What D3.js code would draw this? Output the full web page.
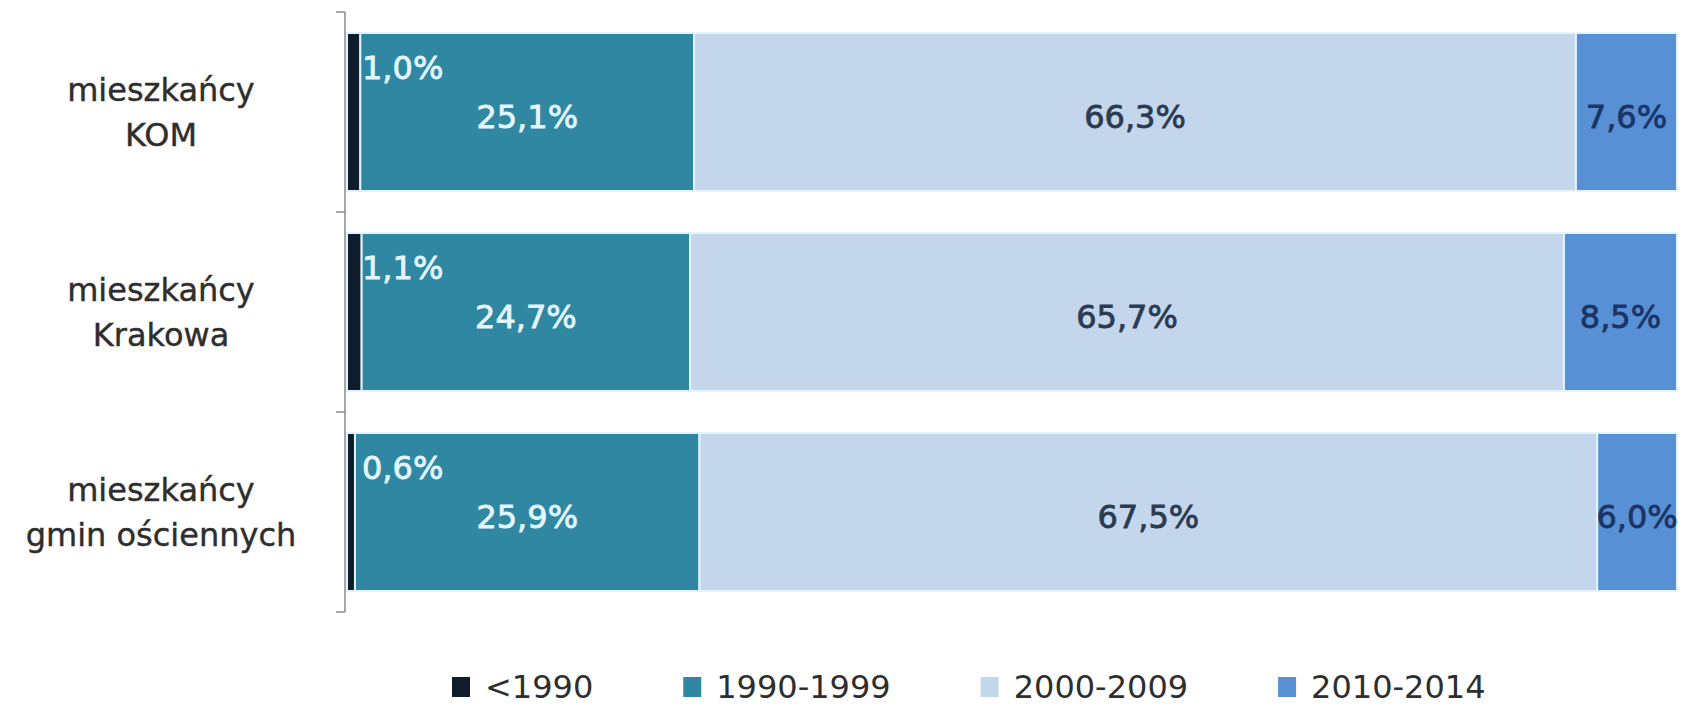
<!DOCTYPE html>
<html>
<head>
<meta charset="utf-8">
<script src="https://cdn.jsdelivr.net/npm/d3@7"></script>
<style>
  body { margin: 0; background: #fff; }
  text { font-family: "DejaVu Sans", sans-serif; }
</style>
</head>
<body>
<div id="chart"></div>
<script>
// categories (two-line labels) and series
var categories = ["mieszkańcy KOM", "mieszkańcy Krakowa", "mieszkańcy gmin ościennych"];
var categoryLines = [["mieszkańcy", "KOM"], ["mieszkańcy", "Krakowa"], ["mieszkańcy", "gmin ościennych"]];
var seriesNames = ["<1990", "1990-1999", "2000-2009", "2010-2014"];
var before1990 = [1.0, 1.1, 0.6];
var s1990_1999 = [25.1, 24.7, 25.9];
var s2000_2009 = [66.3, 65.7, 67.5];
var s2010_2014 = [7.6, 8.5, 6.0];

var colors = ["#0e1c2b", "#2f87a1", "#c3d6ec", "#5890d6"];
var labelColors = ["#e4f6ff", "#e4f6ff", "#2b3b50", "#1b3566"];

var width = 1684, height = 710;
var svg = d3.select("#chart").append("svg")
    .attr("width", width)
    .attr("height", height);

var x = d3.scaleLinear().domain([0, 100]).range([347, 1677]);
var y = d3.scaleBand().domain(categories).range([12, 612])
    .paddingInner(0.21).paddingOuter(0.105);

var rows = categories.map(function(c, i) {
    var vals = [before1990[i], s1990_1999[i], s2000_2009[i], s2010_2014[i]];
    var acc = 0;
    return vals.map(function(v, k) {
        var seg = { cat: c, k: k, v: v, x0: acc, x1: acc + v };
        acc += v;
        return seg;
    });
});

var fmt = function(v) { return v.toFixed(1).replace(".", ",") + "%"; };

var g = svg.append("g");
rows.forEach(function(segs) {
    g.selectAll(null).data(segs).enter().append("rect")
        .attr("x", function(d) { return x(d.x0); })
        .attr("y", function(d) { return y(d.cat); })
        .attr("width", function(d) { return x(d.x1) - x(d.x0); })
        .attr("height", y.bandwidth())
        .style("fill", function(d) { return colors[d.k]; })
        .style("stroke", "#e2f4ff")
        .style("stroke-width", 2);

    g.selectAll(null).data(segs).enter().append("text")
        .attr("x", function(d) { return d.k == 0 ? x(d.x0) + 15 : x((d.x0 + d.x1) / 2); })
        .attr("y", function(d) { return d.k == 0 ? y(d.cat) + 35 : y(d.cat) + y.bandwidth() / 2 + 5; })
        .attr("dy", "0.35em")
        .attr("text-anchor", function(d) { return d.k == 0 ? "start" : "middle"; })
        .style("font-size", "32px")
        .style("fill", function(d) { return labelColors[d.k]; })
        .style("stroke", function(d) { return labelColors[d.k]; })
        .style("stroke-width", 0.8)
        .text(function(d) { return fmt(d.v); });
});

// axis line with ticks at band boundaries
var step = y.step();
var axisX = 345;
svg.append("line")
    .attr("x1", axisX).attr("x2", axisX)
    .attr("y1", y.range()[0]).attr("y2", y.range()[1])
    .style("stroke", "#8a8a8a").style("stroke-width", 1.5);
var tickYs = categories.map(function(c) { return y(c) - step * y.paddingInner() / 2; });
tickYs.push(y.range()[1]);
svg.selectAll(".tick").data(tickYs).enter().append("line")
    .attr("x1", axisX - 9).attr("x2", axisX)
    .attr("y1", function(d) { return d; }).attr("y2", function(d) { return d; })
    .style("stroke", "#8a8a8a").style("stroke-width", 1.5);

// category labels
categories.forEach(function(c, i) {
    var t = svg.append("text")
        .attr("x", 161)
        .attr("y", y(c) + y.bandwidth() / 2)
        .attr("text-anchor", "middle")
        .style("font-size", "32px")
        .style("fill", "#2e2e2e")
        .style("stroke", "#2e2e2e")
        .style("stroke-width", 0.4);
    var lines = categoryLines[i];
    lines.forEach(function(l, j) {
        t.append("tspan")
            .attr("x", 161)
            .attr("dy", j == 0 ? (-(lines.length - 1) / 2 * 1.4 + 0.35) + "em" : "1.4em")
            .text(l);
    });
});

// legend
var legend = svg.append("g");
var lx = 452;
seriesNames.forEach(function(name, i) {
    legend.append("rect")
        .attr("x", lx).attr("y", 677)
        .attr("width", 18).attr("height", 20)
        .style("fill", colors[i]);
    var t = legend.append("text")
        .attr("x", lx + 33).attr("y", 698)
        .style("font-size", "32px")
        .style("fill", "#2e2e2e")
        .text(name);
    lx += 33 + t.node().getComputedTextLength() + 90;
});
</script>
</body>
</html>
